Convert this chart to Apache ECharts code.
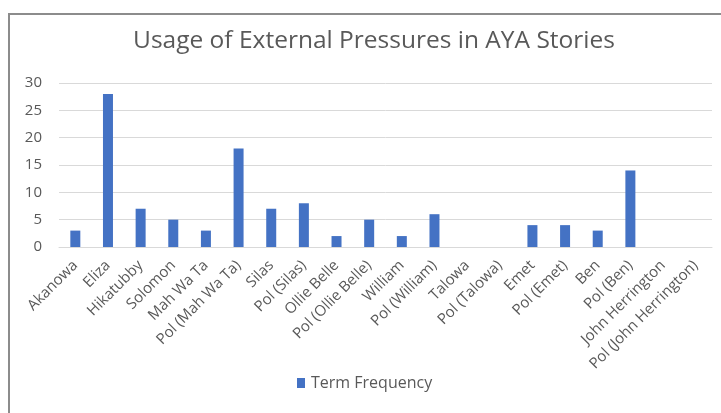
<!DOCTYPE html>
<html>
<head>
<meta charset="utf-8">
<script src="https://cdn.jsdelivr.net/npm/echarts@6/dist/echarts.min.js"></script>
<style>
  html, body { margin: 0; padding: 0; background: #ffffff; }
  #chart { width: 721px; height: 413px; }
</style>
</head>
<body>
<div id="chart"></div>
<script>
// Story characters and their political counterparts
const categories = [
  'Akanowa', 'Eliza', 'Hikatubby', 'Solomon', 'Mah Wa Ta', 'Pol (Mah Wa Ta)',
  'Silas', 'Pol (Silas)', 'Ollie Belle', 'Pol (Ollie Belle)', 'William',
  'Pol (William)', 'Talowa', 'Pol (Talowa)', 'Emet', 'Pol (Emet)', 'Ben',
  'Pol (Ben)', 'John Herrington', 'Pol (John Herrington)'
];
// Term frequency per category
const termFrequency = [3, 28, 7, 5, 3, 18, 7, 8, 2, 5, 2, 6, 0, 0, 4, 4, 3, 14, 0, 0];
const yTicks = { min: 0, max: 30, interval: 5 };

const FONT = '"Open Sans", "Liberation Sans", sans-serif';
const GREY = '#595959';

const chart = echarts.init(document.getElementById('chart'), null, { renderer: 'canvas' });
chart.setOption({
  animation: false,
  backgroundColor: '#ffffff',
  graphic: [{
    type: 'rect',
    shape: { x: 9, y: 14, width: 800, height: 500 },
    style: { fill: 'none', stroke: '#8c8c8c', lineWidth: 2 },
    silent: true
  }],
  title: {
    text: 'Usage of External Pressures in AYA Stories',
    left: 369, top: 24, textAlign: 'center',
    textStyle: { fontFamily: FONT, fontSize: 24.5, fontWeight: 'normal', color: GREY }
  },
  legend: {
    data: ['Term Frequency'],
    left: 292, top: 370,
    itemWidth: 8, itemHeight: 10, itemGap: 7,
    icon: 'rect',
    textStyle: { fontFamily: FONT, fontSize: 16, color: GREY, padding: [0, 0, 0, 1] }
  },
  grid: { left: 59, right: 9, top: 83, bottom: 166, containLabel: false },
  xAxis: {
    type: 'category',
    data: categories,
    axisLine: { lineStyle: { color: '#d9d9d9', width: 1 } },
    axisTick: { show: false },
    axisLabel: {
      interval: 0, rotate: 45, margin: 16,
      fontFamily: FONT, fontSize: 15, color: GREY
    }
  },
  yAxis: {
    type: 'value',
    min: yTicks.min, max: yTicks.max, interval: yTicks.interval,
    axisLine: { show: false },
    axisTick: { show: false },
    splitLine: { lineStyle: { color: '#d9d9d9', width: 1 } },
    axisLabel: { margin: 17, fontFamily: FONT, fontSize: 15, color: GREY }
  },
  series: [{
    name: 'Term Frequency',
    type: 'bar',
    data: termFrequency,
    barWidth: 10,
    itemStyle: { color: '#4472c4' }
  }]
});
</script>
</body>
</html>
